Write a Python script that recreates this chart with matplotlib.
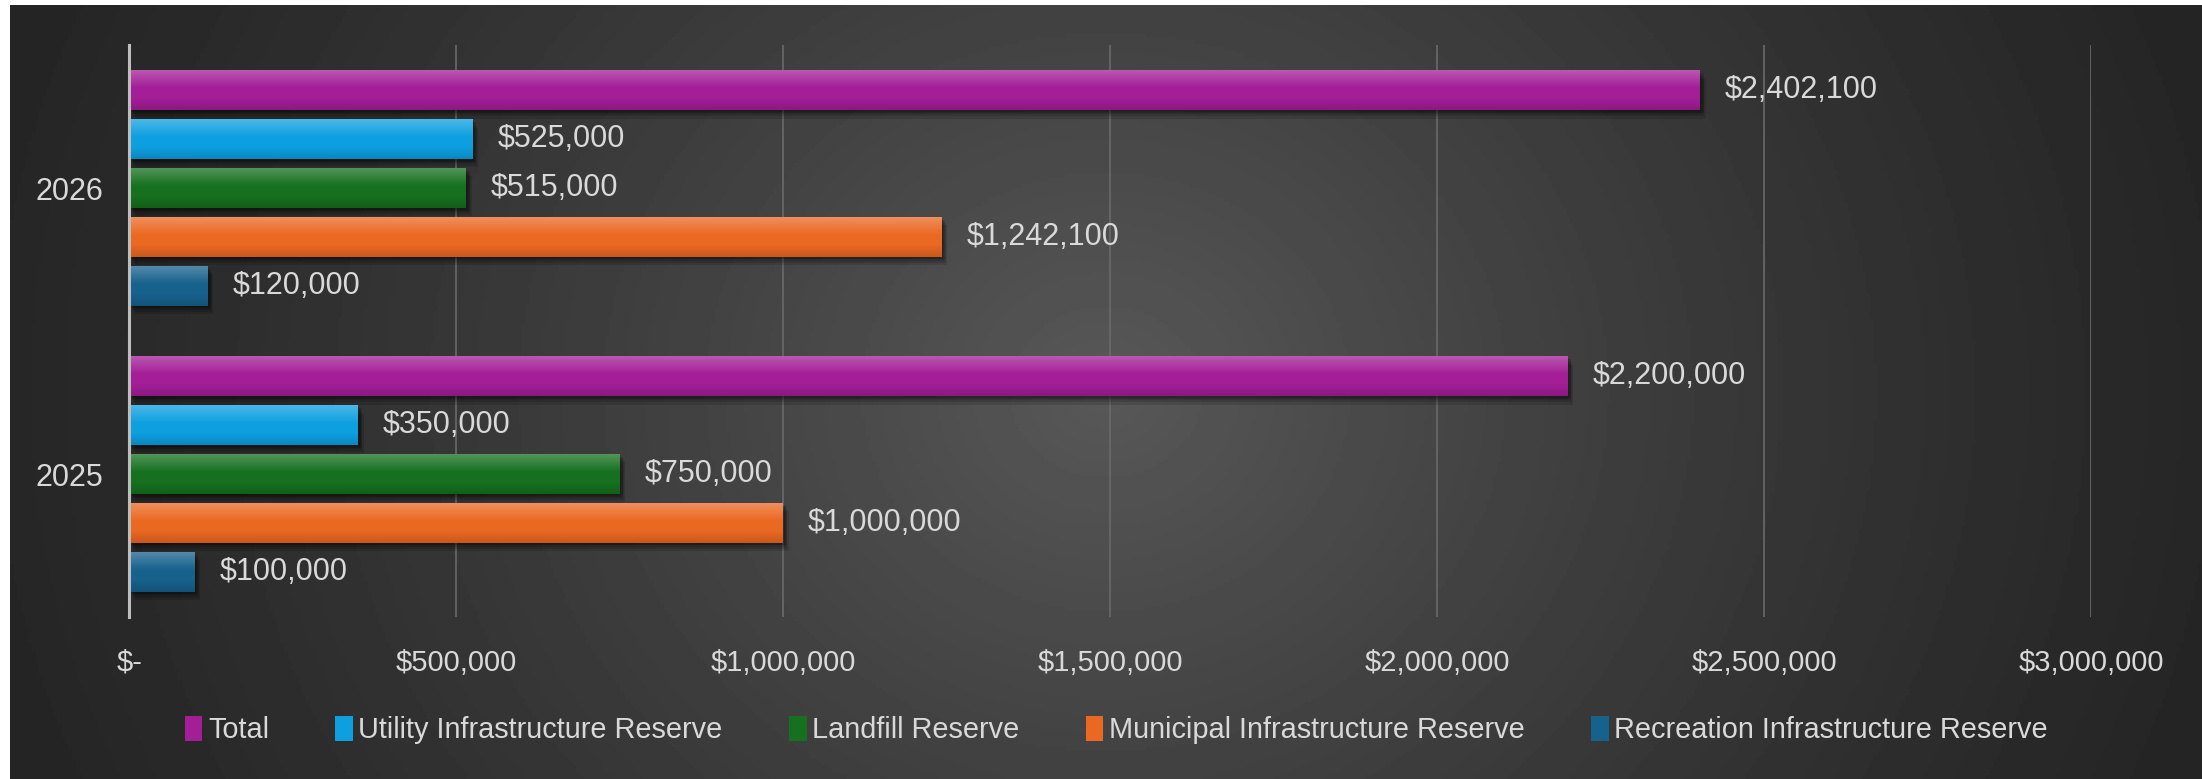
import numpy as np
import matplotlib
matplotlib.use("Agg")
import matplotlib.pyplot as plt
import matplotlib.patheffects as pe
from matplotlib.patches import Patch
from matplotlib.ticker import FuncFormatter

# reserve budgets per year
years = ["2025", "2026"]
series_names = ["Total", "Utility Infrastructure Reserve", "Landfill Reserve",
                "Municipal Infrastructure Reserve", "Recreation Infrastructure Reserve"]
total = [2200000, 2402100]
utility = [350000, 525000]
landfill = [750000, 515000]
municipal = [1000000, 1242100]
recreation = [100000, 120000]

colors = ["#a31e97", "#0d9fe0", "#16701f", "#ea6822", "#17618d"]
text_col = "#d9d9d9"

fig = plt.figure(figsize=(22.02, 7.79), dpi=100, facecolor="white")

# dark radial background
bg = fig.add_axes([10 / 2202, 0, 1 - 10 / 2202, 1 - 5 / 779])
bg.set_axis_off()
gx, gy = np.meshgrid(np.linspace(0, 1, 600), np.linspace(0, 1, 220))
r = np.sqrt(((gx - 0.5) / 0.55) ** 2 + ((gy - 0.5) / 1.4) ** 2)
r = np.clip(r, 0, 1)
val = (36 + (88 - 36) * (1 - r) ** 1.3) / 255
bg.imshow(val, cmap="gray", vmin=0, vmax=1, aspect="auto", extent=[0, 1, 0, 1])

ax = fig.add_axes([129.3 / 2202, 1 - 617 / 779, (2091 - 129.3) / 2202, 572 / 779])
ax.set_facecolor("none")

y = np.arange(len(years))
step = 0.1707
bar_h = 0.139
all_series = [total, utility, landfill, municipal, recreation]

# soft highlight on top, slightly darker at the bottom
t = np.linspace(0, 1, 64)
shade = np.zeros((64, 1, 4))
top = np.clip((t - 0.55) / 0.45, 0, 1)
bot = np.clip(1 - t / 0.3, 0, 1)
shade[:, 0, 0:3] = np.where(top[:, None] > 0, 1.0, 0.0)
shade[:, 0, 3] = 0.26 * top + 0.15 * bot

# blurred drop shadow made of a few stacked offsets
shadow = [pe.SimplePatchShadow(offset=(dx, -dy), shadow_rgbFace="black", alpha=0.13)
          for dx, dy in [(1, 1.5), (2, 3), (3, 4.5), (4, 6), (2.5, 2)]]

for i, (vals, c) in enumerate(zip(all_series, colors)):
    bars = ax.barh(y + (2 - i) * step, vals, height=bar_h, color=c, zorder=3,
                   path_effects=shadow + [pe.Normal()])
    for b, v in zip(bars, vals):
        bx, by, bw, bh = b.get_x(), b.get_y(), b.get_width(), b.get_height()
        im = ax.imshow(shade, extent=[bx, bx + bw, by, by + bh], origin="lower",
                       aspect="auto", zorder=4)
        im.set_clip_path(b)
        ax.annotate("${:,.0f}".format(v), (v, by + bh / 2), xytext=(18, 0),
                    textcoords="offset points", va="center", ha="left",
                    color=text_col, fontsize=22, family="Liberation Sans")

ax.set_xlim(0, 3000000)
ax.set_ylim(-0.5, 1.5)
ax.set_xticks(np.arange(0, 3000001, 500000))
ax.xaxis.set_major_formatter(FuncFormatter(lambda v, p: "$-" if v == 0 else "${:,.0f}".format(v)))
ax.set_yticks(y)
ax.set_yticklabels(years)
ax.tick_params(length=0, colors=text_col)
ax.tick_params(axis="x", pad=23, labelsize=21)
ax.tick_params(axis="y", pad=19, labelsize=22)
for lab in ax.get_xticklabels() + ax.get_yticklabels():
    lab.set_family("Liberation Sans")
ax.grid(axis="x", color="#6a6a6a", linewidth=1.2, zorder=0)
for s in ["top", "right", "bottom"]:
    ax.spines[s].set_visible(False)
ax.spines["left"].set_color("#bdbdbd")
ax.spines["left"].set_linewidth(2.2)
ax.spines["left"].set_zorder(5)

handles = [Patch(facecolor=c, edgecolor="none") for c in colors]
fig.legend(handles, series_names, loc="center", bbox_to_anchor=(0.507, 0.063), ncol=5,
           frameon=False, handlelength=0.6, handleheight=1.0, handletextpad=0.2,
           columnspacing=2.3, labelcolor=text_col,
           prop={"family": "Liberation Sans", "size": 20.8})

fig.savefig("out.png", dpi=100, facecolor=fig.get_facecolor())
